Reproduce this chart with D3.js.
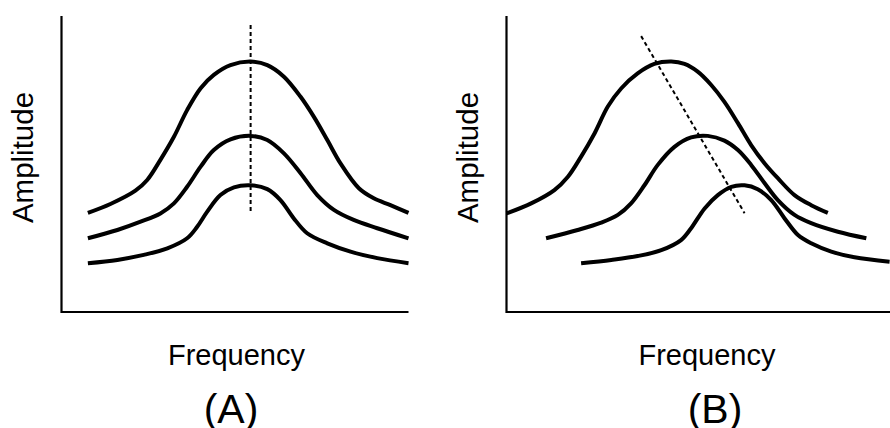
<!DOCTYPE html>
<html>
<head>
<meta charset="utf-8">
<script src="https://cdn.jsdelivr.net/npm/d3@7"></script>
<style>
  html, body { margin: 0; padding: 0; background: #fff; }
  svg { display: block; }
  text { font-family: "Liberation Sans", Arial, Helvetica, sans-serif; fill: #000; }
</style>
</head>
<body>
<svg id="chart" width="890" height="428"></svg>
<script>
// ---- Data (arbitrary units: frequency 0-100, amplitude 0-100) ----
const panelLabels = ["(A)", "(B)"];
const xAxisTitle = "Frequency";
const yAxisTitle = "Amplitude";

// Panel A: three resonance curves sharing the same peak frequency
const aFreq1 = [7.6, 14.1, 21.3, 24.7, 28.5, 32.4, 36.2, 40.1, 43.9, 48.7, 54.5, 59.3, 64.1, 68.9, 72.7, 76.6, 80.4, 85.7, 90.0, 94.8, 100];
const aAmp1  = [33.5, 36.5, 41.0, 44.6, 51.4, 59.2, 68.2, 75.6, 80.1, 83.4, 84.6, 83.4, 79.5, 72.7, 66.0, 58.1, 50.2, 41.8, 38.4, 36.1, 33.5];
const aFreq2 = [7.6, 16.1, 22.8, 28.5, 32.4, 36.2, 40.1, 43.9, 48.7, 54.5, 59.3, 64.1, 68.9, 73.7, 78.5, 84.2, 91.0, 100];
const aAmp2  = [24.9, 27.7, 30.5, 33.3, 36.7, 42.3, 49.1, 54.7, 58.3, 59.5, 58.1, 53.6, 46.9, 39.5, 34.5, 31.1, 28.3, 24.9];
const aFreq3 = [7.6, 16.1, 23.7, 30.5, 36.2, 39.1, 42.0, 45.8, 49.7, 54.5, 59.3, 63.1, 66.9, 70.8, 76.6, 83.3, 91.0, 100];
const aAmp3  = [16.5, 17.6, 19.3, 21.5, 24.9, 28.8, 33.9, 39.5, 42.1, 42.8, 41.5, 37.8, 31.7, 26.6, 23.2, 20.4, 18.2, 16.5];
const aPeakLineFreq = [54.5, 54.5];
const aPeakLineAmp  = [97, 33.4];

// Panel B: peaks shift to higher frequency as amplitude drops
const bFreq1 = [0, 7.1, 13.8, 17.7, 21.5, 25.4, 29.2, 33.1, 37.8, 42.6, 47.5, 51.3, 55.1, 59.0, 62.8, 66.7, 70.5, 74.4, 78.2, 83.0, 87.8, 92.6];
const bAmp1  = [33.3, 36.7, 41.2, 45.7, 52.5, 60.4, 69.4, 75.6, 80.6, 83.8, 84.6, 83.8, 81.2, 76.7, 71.0, 63.8, 56.4, 50.2, 45.2, 39.5, 36.1, 33.5];
const bFreq2 = [11.4, 20.5, 27.3, 32.1, 35.9, 39.8, 43.6, 48.4, 53.2, 58.0, 62.8, 66.7, 70.5, 74.4, 78.2, 83.0, 87.8, 95.5, 103.7];
const bAmp2  = [24.9, 27.7, 30.2, 32.8, 36.7, 42.9, 49.7, 55.8, 59.0, 59.5, 57.9, 54.7, 49.7, 43.5, 37.8, 32.8, 30.0, 27.1, 24.9];
const bFreq3 = [21.5, 30.2, 37.8, 44.6, 50.3, 53.2, 57.1, 60.9, 64.8, 68.6, 72.4, 76.3, 80.1, 84.0, 87.8, 93.6, 100.3, 110.4];
const bAmp3  = [16.5, 17.6, 18.9, 20.9, 24.3, 28.3, 35.0, 39.5, 42.3, 42.8, 41.5, 37.8, 31.7, 26.0, 23.2, 20.4, 18.5, 17.0];
const bPeakLineFreq = [38.8, 68.6];
const bPeakLineAmp  = [93.2, 33.4];

// Axis extents (data units)
const axisFreqMax = [100, 115];
const axisAmpMax = 100;

// ---- Build ----
const zip = (xs, ys) => xs.map((x, i) => ({ f: x, a: ys[i] }));
const panels = [
  {
    label: panelLabels[0],
    curves: [zip(aFreq1, aAmp1), zip(aFreq2, aAmp2), zip(aFreq3, aAmp3)],
    peakLine: zip(aPeakLineFreq, aPeakLineAmp),
    axisMax: axisFreqMax[0],
    left: 61.5, titleMid: 236.5, labelMid: 231
  },
  {
    label: panelLabels[1],
    curves: [zip(bFreq1, bAmp1), zip(bFreq2, bAmp2), zip(bFreq3, bAmp3)],
    peakLine: zip(bPeakLineFreq, bPeakLineAmp),
    axisMax: axisFreqMax[1],
    left: 506.5, titleMid: 707, labelMid: 715
  }
];

const svg = d3.select("#chart");
const plotW = 347, plotTop = 16, plotBottom = 312;

panels.forEach(p => {
  const x = d3.scaleLinear().domain([0, 100]).range([p.left, p.left + plotW]);
  const y = d3.scaleLinear().domain([0, axisAmpMax]).range([plotBottom, plotTop]);
  const g = svg.append("g");

  // axes (L shape)
  const axisPts = [{ f: 0, a: axisAmpMax }, { f: 0, a: 0 }, { f: p.axisMax, a: 0 }];
  g.append("path")
    .attr("d", d3.line().x(d => x(d.f)).y(d => y(d.a))(axisPts))
    .attr("fill", "none").attr("stroke", "#000").attr("stroke-width", 2.2);

  const line = d3.line().x(d => x(d.f)).y(d => y(d.a)).curve(d3.curveCatmullRom.alpha(0.5));
  p.curves.forEach(c => {
    g.append("path").attr("d", line(c))
      .attr("fill", "none").attr("stroke", "#000").attr("stroke-width", 4);
  });

  g.append("path")
    .attr("d", d3.line().x(d => x(d.f)).y(d => y(d.a))(p.peakLine))
    .attr("fill", "none").attr("stroke", "#000").attr("stroke-width", 2)
    .attr("stroke-dasharray", "4,3");

  // y title
  g.append("text")
    .attr("transform", `translate(${p.left - 28.5},${157.5}) rotate(-90)`)
    .attr("text-anchor", "middle")
    .attr("font-size", 29.5)
    .text(yAxisTitle);

  // x title
  g.append("text")
    .attr("x", p.titleMid).attr("y", 365)
    .attr("text-anchor", "middle")
    .attr("font-size", 29)
    .text(xAxisTitle);

  g.append("text")
    .attr("x", p.labelMid).attr("y", 423)
    .attr("text-anchor", "middle")
    .attr("font-size", 41)
    .text(p.label);
});
</script>
</body>
</html>
